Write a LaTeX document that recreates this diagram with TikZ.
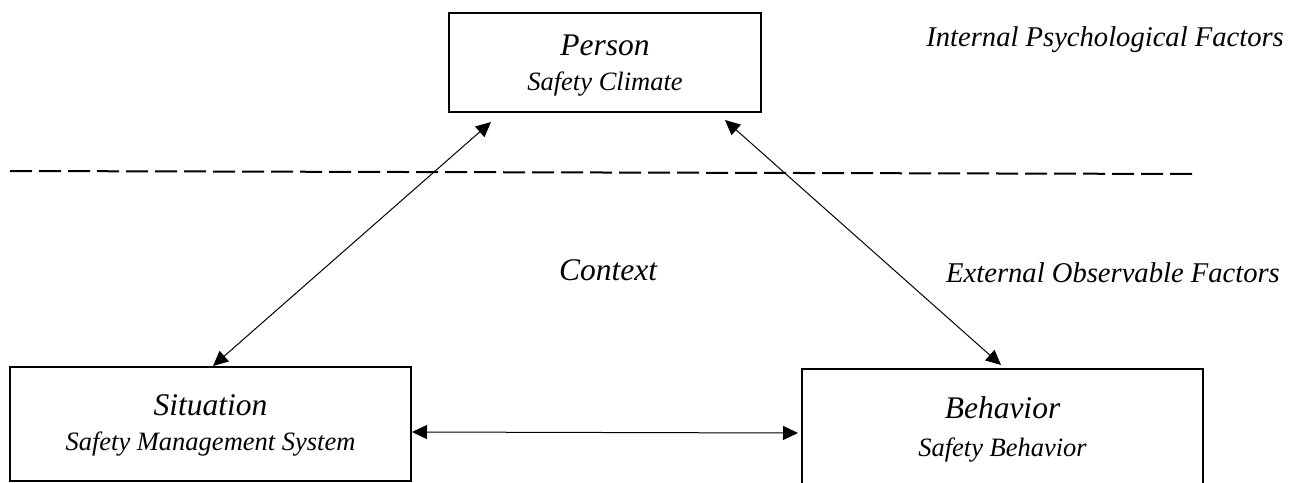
\documentclass[tikz,border=0pt]{standalone}
\usepackage{fontspec}
\setmainfont{Liberation Serif}[
  UprightFont=*,
  ItalicFont=* Italic,
  BoldFont=* Bold]
\usetikzlibrary{arrows.meta}

\begin{document}
\begin{tikzpicture}[x=1pt, y=-1pt,
  box/.style={draw, line width=2pt, inner sep=0pt},
  title/.style={anchor=base, inner sep=0pt, font=\fontsize{31.5}{36}\selectfont\itshape},
  subtitle/.style={anchor=base, inner sep=0pt, font=\fontsize{26.5}{30}\selectfont\itshape},
  side/.style={inner sep=0pt, font=\fontsize{28.6}{32}\selectfont\itshape},
  link/.style={line width=1pt, {Triangle[length=15pt,width=14pt]}-{Triangle[length=15pt,width=14pt]}},
  divider/.style={line width=2pt, dash pattern=on 22pt off 7pt}
]
\useasboundingbox (0,0) rectangle (1298,482);

% boxes
\node[box, minimum width=312pt, minimum height=99pt] (person) at (605,62.5) {};
\node[box, minimum width=401pt, minimum height=114pt] (situation) at (210.5,424) {};
\node[box, minimum width=401pt, minimum height=116pt] (behavior) at (1002.5,427) {};

% box texts
\node[title] (personT) at (605,55) {Person};
\node[subtitle] (personS) at (605,90) {Safety Climate};
\node[title] (situationT) at (210.5,415) {Situation};
\node[subtitle] (situationS) at (210.5,450) {Safety Management System};
\node[title] (behaviorT) at (1002.5,418) {Behavior};
\node[subtitle] (behaviorS) at (1002.5,456) {Safety Behavior};

% labels
\node[side, anchor=base east] (internal) at (1284,46) {Internal Psychological Factors};
\node[title, anchor=base] (context) at (608,280) {Context};
\node[side, anchor=base east] (external) at (1280,282) {External Observable Factors};

% dividing line
\coordinate (dl) at (10,171);
\coordinate (dr) at (1198,174);
\draw[divider] (dl) -- (dr);

% connector ends
\coordinate (pL) at (491,122);
\coordinate (sT) at (213,366);
\coordinate (pR) at (725,120);
\coordinate (bT) at (1001,365);
\coordinate (sR) at (412,432);
\coordinate (bL) at (798,433);

\draw[link] (pL) -- (sT);
\draw[link] (pR) -- (bT);
\draw[link] (sR) -- (bL);
\end{tikzpicture}
\end{document}
